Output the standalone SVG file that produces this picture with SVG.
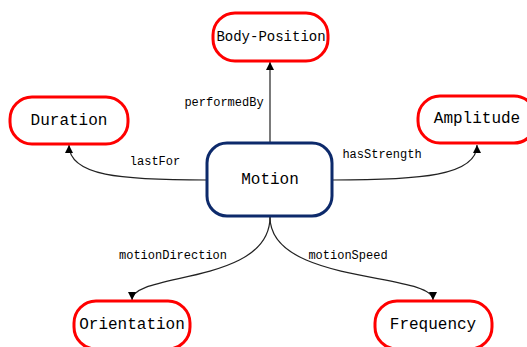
<svg xmlns="http://www.w3.org/2000/svg" width="527" height="347" viewBox="0 0 527 347">
<style>
.n rect{fill:#fff;stroke:#ff0000;stroke-width:3}
.m rect{fill:#fff;stroke:#0d2a6b;stroke-width:3}
.t{font-family:"Liberation Mono","DejaVu Sans Mono",monospace;font-size:16px;fill:#000;text-anchor:middle;dominant-baseline:central}
.bp{font-size:14px}
.l{font-family:"Liberation Mono","DejaVu Sans Mono",monospace;font-size:12px;fill:#000;text-anchor:middle;dominant-baseline:central}
.e path{fill:none;stroke:#222;stroke-width:1.2;marker-end:url(#a)}
</style>
<defs>
<marker id="a" viewBox="0 0 10 10" refX="10" refY="5" markerWidth="8" markerHeight="8" markerUnits="userSpaceOnUse" orient="auto">
<path d="M0,0 L10,5 L0,10 z" fill="#000"/>
</marker>
</defs>
<g class="e" id="connectors">
<path d="M270,142 L270,62"/>
<path d="M207,180 C120,180 69,176 69,145"/>
<path d="M332,180 C420,180 477,176 477,145"/>
<path d="M270,217 C270,285 132,272 132,300"/>
<path d="M270,217 C270,285 433,272 433,300"/>
</g>
<g id="edge-labels">
<text class="l" x="224" y="103">performedBy</text>
<text class="l" x="155" y="162">lastFor</text>
<text class="l" x="382" y="155">hasStrength</text>
<text class="l" x="173" y="256">motionDirection</text>
<text class="l" x="348" y="256">motionSpeed</text>
</g>
<g class="n" id="body-position">
<rect x="213" y="13" width="115" height="48" rx="22"/>
<text class="t bp" x="271" y="37">Body-Position</text>
</g>
<g class="n" id="duration">
<rect x="10" y="97" width="118" height="47" rx="22"/>
<text class="t" x="69" y="121">Duration</text>
</g>
<g class="n" id="amplitude">
<rect x="418" y="96" width="118" height="47" rx="22"/>
<text class="t" x="477" y="119">Amplitude</text>
</g>
<g class="m" id="motion">
<rect x="207" y="143" width="125" height="73" rx="20"/>
<text class="t" x="270" y="180">Motion</text>
</g>
<g class="n" id="orientation">
<rect x="74" y="301" width="116" height="48" rx="22"/>
<text class="t" x="132" y="325">Orientation</text>
</g>
<g class="n" id="frequency">
<rect x="375" y="301" width="117" height="48" rx="22"/>
<text class="t" x="433" y="325">Frequency</text>
</g>
</svg>
